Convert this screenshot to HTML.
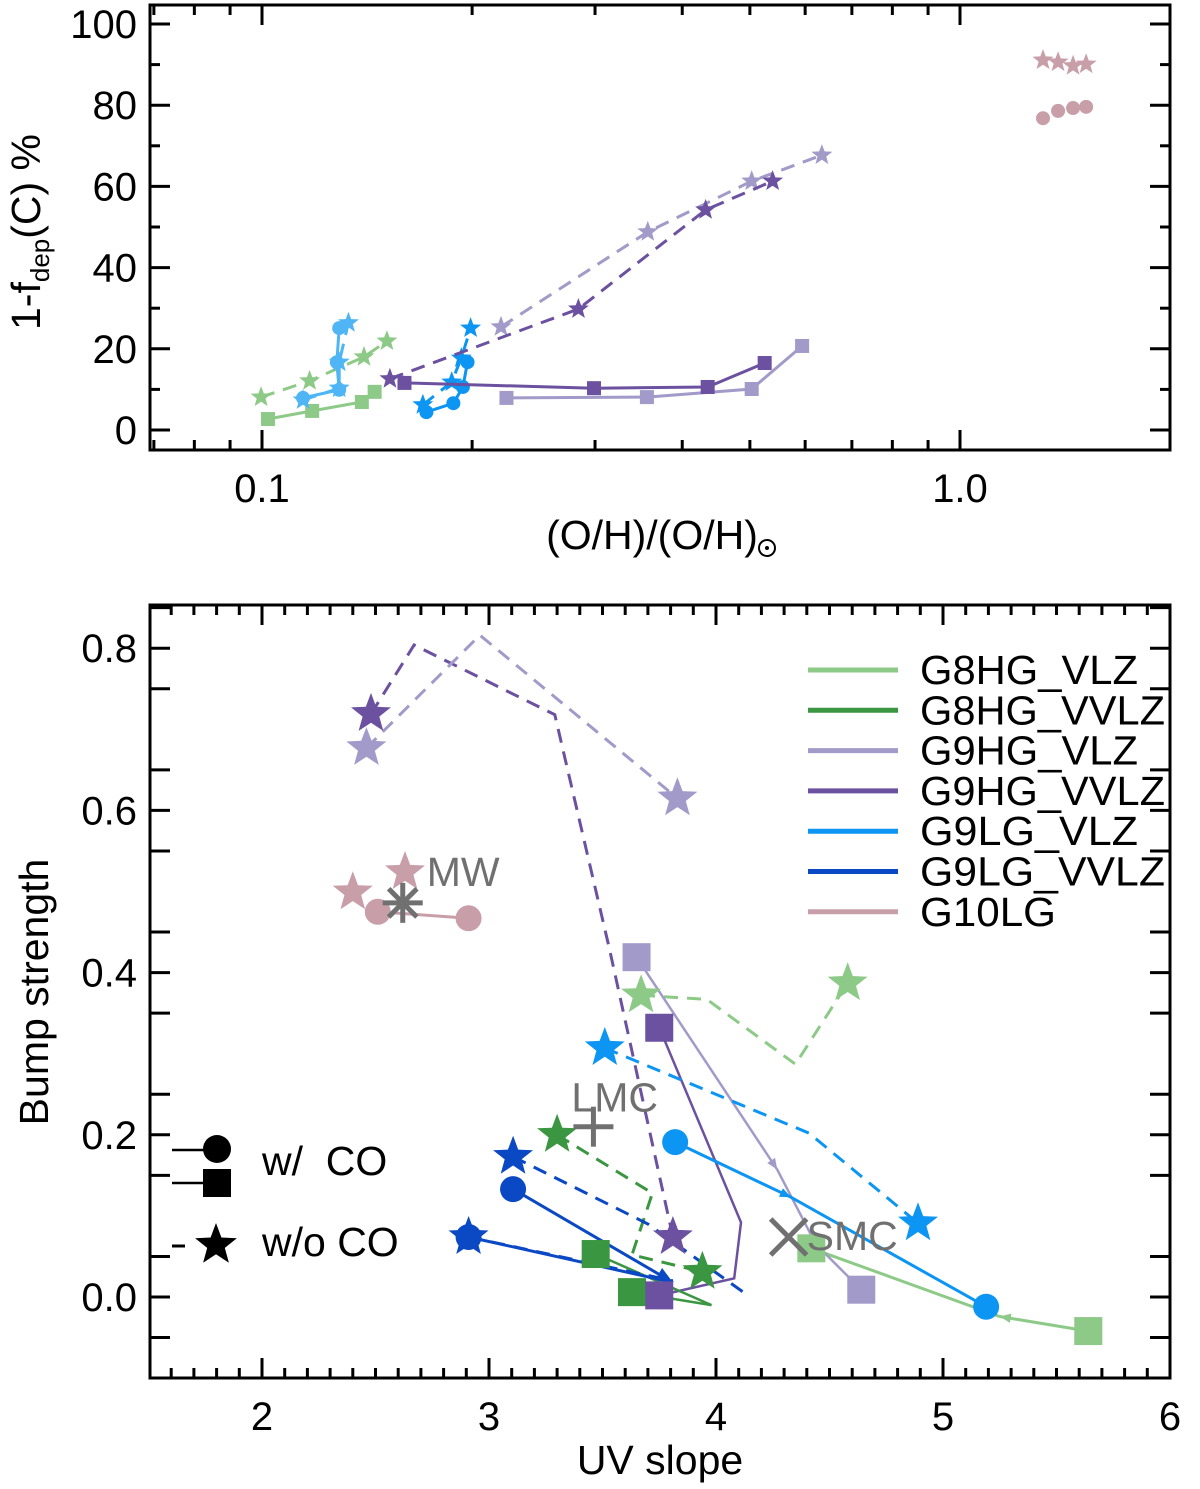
<!DOCTYPE html>
<html><head><meta charset="utf-8"><style>
html,body{margin:0;padding:0;background:#fff;}
svg{display:block;font-family:"Liberation Sans",sans-serif;}
</style></head><body>
<svg id="chart" width="1200" height="1489" viewBox="0 0 1200 1489" xmlns="http://www.w3.org/2000/svg"></svg>
<script>
// ---------- DATA ----------
const topXTicks = [0.1, 1.0];
const topXTickLabels = ["0.1", "1.0"];
const topYTicks = [0, 20, 40, 60, 80, 100];
const botXTicks = [2, 3, 4, 5, 6];
const botYTicks = [0.0, 0.2, 0.4, 0.6, 0.8];
const botYTickLabels = ["0.0", "0.2", "0.4", "0.6", "0.8"];

const seriesNames = ["G8HG_VLZ","G8HG_VVLZ","G9HG_VLZ","G9HG_VVLZ","G9LG_VLZ","G9LG_VVLZ","G10LG"];
const seriesColors = ["#8dca88","#3b9641","#a29ac8","#6b519f","#0c95f2","#0a48c4","#c89ea9"];

// top panel: metallicity (O/H)/(O/H)sun and 1-fdep %
const t_g8vlz_sq_x = [0.102,0.118,0.139,0.145];
const t_g8vlz_sq_y = [2.7,4.7,6.9,9.4];
const t_g8vlz_st_x = [0.0997,0.117,0.140,0.151];
const t_g8vlz_st_y = [8.1,12.1,18.0,21.9];
const t_lb_ci_x = [0.1145,0.129,0.128,0.129];
const t_lb_ci_y = [7.9,9.9,16.7,25.1];
const t_lb_st_x = [0.1145,0.129,0.129,0.133];
const t_lb_st_y = [7.4,10.3,16.7,26.4];
const t_az_ci_x = [0.172,0.188,0.194,0.197];
const t_az_ci_y = [4.4,6.6,10.6,16.7];
const t_az_st_x = [0.170,0.187,0.193,0.199];
const t_az_st_y = [6.2,11.8,17.7,25.1];
const t_g9vvlz_sq_x = [0.160,0.299,0.435,0.525];
const t_g9vvlz_sq_y = [11.6,10.3,10.6,16.5];
const t_g9vlz_sq_x = [0.224,0.356,0.503,0.594];
const t_g9vlz_sq_y = [7.9,8.1,10.1,20.7];
const t_g9vvlz_st_x = [0.1525,0.284,0.432,0.539];
const t_g9vvlz_st_y = [12.6,29.8,54.2,61.3];
const t_g9vlz_st_x = [0.220,0.357,0.503,0.634];
const t_g9vlz_st_y = [25.4,48.8,61.3,67.7];
const t_g10_st_x = [1.315,1.382,1.452,1.516];
const t_g10_st_y = [91.1,90.6,89.7,90.1];
const t_g10_ci_x = [1.315,1.382,1.452,1.516];
const t_g10_ci_y = [76.8,78.6,79.3,79.6];

// bottom panel: UV slope and bump strength
const b_g8vlz_sol_x = [5.64,5.25,4.42];
const b_g8vlz_sol_y = [-0.042,-0.024,0.060];
const b_g8vlz_das_x = [3.67,3.96,4.35,4.58];
const b_g8vlz_das_y = [0.372,0.367,0.287,0.387];
const b_g8vvlz_das_x = [3.30,3.72,3.63,3.94];
const b_g8vvlz_das_y = [0.200,0.128,0.052,0.031];
const b_g8vvlz_sq1_x = [3.47,3.98];
const b_g8vvlz_sq1_y = [0.053,-0.010];
const b_g8vvlz_sq2_x = [3.63,3.98];
const b_g8vvlz_sq2_y = [0.006,-0.010];
const b_g9vlz_sol_x = [3.65,4.27,4.44,4.64];
const b_g9vlz_sol_y = [0.419,0.157,0.065,0.009];
const b_g9vlz_das_x = [2.46,2.96,3.83];
const b_g9vlz_das_y = [0.677,0.816,0.615];
const b_g9vvlz_sol_x = [3.75,4.11,4.08,3.75];
const b_g9vvlz_sol_y = [0.332,0.092,0.023,0.002];
const b_g9vvlz_das_x = [2.48,2.67,3.29,3.53,3.81];
const b_g9vvlz_das_y = [0.719,0.804,0.718,0.430,0.074];
const b_lgvlz_sol_x = [3.82,4.33,5.19];
const b_lgvlz_sol_y = [0.191,0.123,-0.012];
const b_lgvlz_das_x = [3.51,4.41,4.89];
const b_lgvlz_das_y = [0.307,0.202,0.091];
const b_lgvvlz_sol1_x = [3.106,3.81];
const b_lgvvlz_sol1_y = [0.133,0.018];
const b_lgvvlz_sol2_x = [2.91,3.81];
const b_lgvvlz_sol2_y = [0.074,0.018];
const b_lgvvlz_das1_x = [3.106,3.70,4.14];
const b_lgvvlz_das1_y = [0.173,0.090,0.002];
const b_lgvvlz_das2_x = [2.91,3.81];
const b_lgvvlz_das2_y = [0.074,0.020];
const b_g10_st_x = [2.40,2.63];
const b_g10_st_y = [0.499,0.524];
const b_g10_ci_x = [2.51,2.91];
const b_g10_ci_y = [0.475,0.467];
const refNames = ["MW","LMC","SMC"];
const refX = [2.62,3.46,4.32];
const refY = [0.486,0.210,0.074];

// ---------- AXES ----------
const svg = document.getElementById('chart');
const NS = "http://www.w3.org/2000/svg";
function mk(tag, attrs, parent){
  const e = document.createElementNS(NS, tag);
  for (const k in attrs) e.setAttribute(k, attrs[k]);
  (parent||svg).appendChild(e);
  return e;
}
const T = {x0:150, x1:1170, y0:5, y1:450};
const B = {x0:150, x1:1170, y0:605, y1:1378};
const txs = v => 262 + (Math.log10(v) + 1) * 698;
const tys = v => 430 - v * 4.06;
const bxs = v => 262 + (v - 2) * 227;
const bys = v => 1297 - v * 811;

function starPts(cx, cy, r){
  const p = [];
  for (let i=0;i<10;i++){
    const a = -Math.PI/2 + i*Math.PI/5;
    const rr = i%2===0 ? r : r*0.42;
    p.push((cx+rr*Math.cos(a)).toFixed(1)+","+(cy+rr*Math.sin(a)).toFixed(1));
  }
  return p.join(" ");
}
function line(g, xs, ys, fx, fy, color, dashed, w, name){
  const pts = xs.map((x,i)=>fx(x).toFixed(1)+","+fy(ys[i]).toFixed(1)).join(" ");
  const el = mk('polyline', {points:pts, fill:'none', stroke:color, 'stroke-width':w||3, 'stroke-dasharray': dashed ? '14,9' : 'none'}, g);
  
  
}
function marker(g, type, cx, cy, size, color, name){
  let el;
  if (type==='star') el = mk('polygon', {points: starPts(cx,cy,size), fill:color}, g);
  else if (type==='sq') el = mk('rect', {x:cx-size, y:cy-size, width:2*size, height:2*size, fill:color}, g);
  else el = mk('circle', {cx:cx, cy:cy, r:size, fill:color}, g);
  
  
}
function markers(g, type, xs, ys, fx, fy, size, color, idx, name){
  const list = idx || xs.map((_,i)=>i);
  list.forEach(i => marker(g, type, fx(xs[i]), fy(ys[i]), size, color, name));
}
function arrow(g, x1, y1, x2, y2, color, len){
  const a = Math.atan2(y2-y1, x2-x1), L = len||12, s = 0.4;
  const p = [[x2,y2],[x2-L*Math.cos(a-s), y2-L*Math.sin(a-s)],[x2-L*Math.cos(a+s), y2-L*Math.sin(a+s)]];
  const el = mk('polygon', {points:p.map(q=>q.join(',')).join(' '), fill:color}, g);
  
  
}
function text(g, x, y, s, size, anchor, color, name){
  const el = mk('text', {x:x, y:y, 'font-size':size, 'text-anchor':anchor||'start', fill:color||'#000'}, g);
  el.textContent = s;
  
  
  return el;
}
function frame(P, name){
  const el = mk('rect', {x:P.x0, y:P.y0, width:P.x1-P.x0, height:P.y1-P.y0, fill:'none', stroke:'#000', 'stroke-width':3});
  
  
}
function tick(g, x1,y1,x2,y2){
  mk('line',{x1:x1,y1:y1,x2:x2,y2:y2,stroke:'#000','stroke-width':3},g);
}
const TF = 40, LF = 41;

// ---------- TOP PANEL ----------
const gTop = mk('g', {});  
frame(T, 'top-plot-frame');
const gTopAx = mk('g', {}, gTop);  
[0.07,0.08,0.09,0.2,0.3,0.4,0.5,0.6,0.7,0.8,0.9,2].forEach(v=>{const x=txs(v); if(x>T.x0&&x<T.x1){tick(gTopAx,x,T.y1,x,T.y1-10);tick(gTopAx,x,T.y0,x,T.y0+10);}});
topXTicks.forEach((v,i)=>{const x=txs(v); tick(gTopAx,x,T.y1,x,T.y1-20);tick(gTopAx,x,T.y0,x,T.y0+20); text(gTopAx,x,502,topXTickLabels[i],TF,'middle','#000','top-x-tick-label');});
for (let v=10; v<100; v+=20){const y=tys(v); tick(gTopAx,T.x0,y,T.x0+10,y); tick(gTopAx,T.x1,y,T.x1-10,y);}
topYTicks.forEach(v=>{const y=tys(v); tick(gTopAx,T.x0,y,T.x0+20,y); tick(gTopAx,T.x1,y,T.x1-20,y); text(gTopAx,137,y+14,String(v),TF,'end','#000','top-y-tick-label');});
text(gTopAx, 652, 549, "(O/H)/(O/H)", LF, 'middle', '#000', 'top-x-axis-title');
mk('circle',{cx:767,cy:548,r:8,fill:'none',stroke:'#000','stroke-width':2},gTopAx);
mk('circle',{cx:767,cy:548,r:2,fill:'#000'},gTopAx);
const yt = mk('text',{x:0,y:0,'font-size':LF,transform:'translate(40,232) rotate(-90)','text-anchor':'middle'},gTopAx);
 
yt.innerHTML = '1-f<tspan font-size="26" dy="9">dep</tspan><tspan dy="-9">(C) %</tspan>';

const c = seriesColors;
line(gTop, t_g8vlz_sq_x, t_g8vlz_sq_y, txs, tys, c[0], false, 3, 'g8hg-vlz-co-line');
markers(gTop,'sq', t_g8vlz_sq_x, t_g8vlz_sq_y, txs, tys, 7, c[0], null, 'g8hg-vlz-co-marker');
line(gTop, t_g8vlz_st_x, t_g8vlz_st_y, txs, tys, c[0], true, 3, 'g8hg-vlz-noco-line');
markers(gTop,'star', t_g8vlz_st_x, t_g8vlz_st_y, txs, tys, 11, c[0], null, 'g8hg-vlz-noco-marker');
line(gTop, t_lb_ci_x, t_lb_ci_y, txs, tys, "#4fb5f5", false, 3, 'g9lg-light-co-line');
markers(gTop,'ci', t_lb_ci_x, t_lb_ci_y, txs, tys, 7, "#4fb5f5", null, 'g9lg-light-co-marker');
line(gTop, t_lb_st_x, t_lb_st_y, txs, tys, "#4fb5f5", true, 3, 'g9lg-light-noco-line');
markers(gTop,'star', t_lb_st_x, t_lb_st_y, txs, tys, 11, "#4fb5f5", null, 'g9lg-light-noco-marker');
line(gTop, t_az_ci_x, t_az_ci_y, txs, tys, c[4], false, 3, 'g9lg-co-line');
markers(gTop,'ci', t_az_ci_x, t_az_ci_y, txs, tys, 7, c[4], null, 'g9lg-co-marker');
line(gTop, t_az_st_x, t_az_st_y, txs, tys, c[4], true, 3, 'g9lg-noco-line');
markers(gTop,'star', t_az_st_x, t_az_st_y, txs, tys, 11, c[4], null, 'g9lg-noco-marker');
line(gTop, t_g9vlz_sq_x, t_g9vlz_sq_y, txs, tys, c[2], false, 3, 'g9hg-vlz-co-line');
markers(gTop,'sq', t_g9vlz_sq_x, t_g9vlz_sq_y, txs, tys, 7, c[2], null, 'g9hg-vlz-co-marker');
line(gTop, t_g9vvlz_sq_x, t_g9vvlz_sq_y, txs, tys, c[3], false, 3, 'g9hg-vvlz-co-line');
markers(gTop,'sq', t_g9vvlz_sq_x, t_g9vvlz_sq_y, txs, tys, 7, c[3], null, 'g9hg-vvlz-co-marker');
line(gTop, t_g9vlz_st_x, t_g9vlz_st_y, txs, tys, c[2], true, 3, 'g9hg-vlz-noco-line');
markers(gTop,'star', t_g9vlz_st_x, t_g9vlz_st_y, txs, tys, 11, c[2], null, 'g9hg-vlz-noco-marker');
line(gTop, t_g9vvlz_st_x, t_g9vvlz_st_y, txs, tys, c[3], true, 3, 'g9hg-vvlz-noco-line');
markers(gTop,'star', t_g9vvlz_st_x, t_g9vvlz_st_y, txs, tys, 11, c[3], null, 'g9hg-vvlz-noco-marker');
markers(gTop,'star', t_g10_st_x, t_g10_st_y, txs, tys, 11, c[6], null, 'g10lg-noco-marker');
markers(gTop,'ci', t_g10_ci_x, t_g10_ci_y, txs, tys, 7, c[6], null, 'g10lg-co-marker');

// ---------- BOTTOM PANEL ----------
const gBot = mk('g', {});  
frame(B, 'bottom-plot-frame');
const gBAx = mk('g', {}, gBot);  
for (let k=16; k<60; k++){ if(k%10===0) continue; const x=bxs(k/10); tick(gBAx,x,B.y1,x,B.y1-10); tick(gBAx,x,B.y0,x,B.y0+10);}
botXTicks.forEach(v=>{const x=bxs(v); tick(gBAx,x,B.y1,x,B.y1-20); tick(gBAx,x,B.y0,x,B.y0+20); text(gBAx,x,1430,String(v),TF,'middle','#000','bottom-x-tick-label');});
for (let k=-1; k<=17; k+=2){ const y=bys(k*0.05); if(y>B.y0&&y<B.y1){tick(gBAx,B.x0,y,B.x0+20,y); tick(gBAx,B.x1,y,B.x1-20,y);} }
botYTicks.forEach((v,i)=>{const y=bys(v); tick(gBAx,B.x0,y,B.x0+20,y); tick(gBAx,B.x1,y,B.x1-20,y); text(gBAx,137,y+14,botYTickLabels[i],TF,'end','#000','bottom-y-tick-label');});
text(gBAx, 660, 1474, "UV slope", LF, 'middle', '#000', 'bottom-x-axis-title');
const byt = text(gBAx, 0, 0, "Bump strength", LF, 'middle', '#000', 'bottom-y-axis-title');
byt.setAttribute('transform','translate(48,992) rotate(-90)');

// lines
line(gBot, b_g8vlz_das_x, b_g8vlz_das_y, bxs, bys, c[0], true, 3, 'g8hg-vlz-noco-line');
line(gBot, b_g8vlz_sol_x, b_g8vlz_sol_y, bxs, bys, c[0], false, 3, 'g8hg-vlz-co-line');
arrow(gBot, bxs(5.64), bys(-0.042), bxs(5.25), bys(-0.024), c[0], 12);
line(gBot, b_g9vvlz_das_x, b_g9vvlz_das_y, bxs, bys, c[3], true, 3, 'g9hg-vvlz-noco-line');
line(gBot, b_g9vlz_das_x, b_g9vlz_das_y, bxs, bys, c[2], true, 3, 'g9hg-vlz-noco-line');
line(gBot, b_g9vlz_sol_x, b_g9vlz_sol_y, bxs, bys, c[2], false, 2.5, 'g9hg-vlz-co-line');
arrow(gBot, bxs(3.65), bys(0.419), bxs(4.27), bys(0.157), c[2], 12);
line(gBot, b_g9vvlz_sol_x, b_g9vvlz_sol_y, bxs, bys, c[3], false, 2.5, 'g9hg-vvlz-co-line');
line(gBot, b_lgvlz_das_x, b_lgvlz_das_y, bxs, bys, c[4], true, 3, 'g9lg-vlz-noco-line');
line(gBot, b_lgvlz_sol_x, b_lgvlz_sol_y, bxs, bys, c[4], false, 3, 'g9lg-vlz-co-line');
arrow(gBot, bxs(3.82), bys(0.191), bxs(4.33), bys(0.123), c[4], 12);
line(gBot, b_g8vvlz_das_x, b_g8vvlz_das_y, bxs, bys, c[1], true, 3, 'g8hg-vvlz-noco-line');
line(gBot, b_g8vvlz_sq1_x, b_g8vvlz_sq1_y, bxs, bys, c[1], false, 2.5, 'g8hg-vvlz-co-line');
line(gBot, b_g8vvlz_sq2_x, b_g8vvlz_sq2_y, bxs, bys, c[1], false, 2.5, 'g8hg-vvlz-co-line');
line(gBot, b_lgvvlz_das1_x, b_lgvvlz_das1_y, bxs, bys, c[5], true, 3, 'g9lg-vvlz-noco-line');
line(gBot, b_lgvvlz_das2_x, b_lgvvlz_das2_y, bxs, bys, c[5], true, 3, 'g9lg-vvlz-noco-line');
line(gBot, b_lgvvlz_sol1_x, b_lgvvlz_sol1_y, bxs, bys, c[5], false, 3, 'g9lg-vvlz-co-line');
line(gBot, b_lgvvlz_sol2_x, b_lgvvlz_sol2_y, bxs, bys, c[5], false, 3, 'g9lg-vvlz-co-line');
arrow(gBot, bxs(3.106), bys(0.133), bxs(3.81), bys(0.018), c[5], 18);
line(gBot, b_g10_ci_x, b_g10_ci_y, bxs, bys, c[6], false, 3, 'g10lg-co-line');

// markers (first & last)
const fl = a => [0, a.length-1];
markers(gBot,'star', b_g8vlz_das_x, b_g8vlz_das_y, bxs, bys, 21, c[0], fl(b_g8vlz_das_x), 'g8hg-vlz-noco-marker');
markers(gBot,'sq', b_g8vlz_sol_x, b_g8vlz_sol_y, bxs, bys, 14, c[0], fl(b_g8vlz_sol_x), 'g8hg-vlz-co-marker');
markers(gBot,'star', b_g9vlz_das_x, b_g9vlz_das_y, bxs, bys, 21, c[2], fl(b_g9vlz_das_x), 'g9hg-vlz-noco-marker');
markers(gBot,'star', b_g9vvlz_das_x, b_g9vvlz_das_y, bxs, bys, 21, c[3], fl(b_g9vvlz_das_x), 'g9hg-vvlz-noco-marker');
markers(gBot,'sq', b_g9vlz_sol_x, b_g9vlz_sol_y, bxs, bys, 14, c[2], fl(b_g9vlz_sol_x), 'g9hg-vlz-co-marker');
markers(gBot,'sq', b_g8vvlz_sq1_x, b_g8vvlz_sq1_y, bxs, bys, 14, c[1], [0], 'g8hg-vvlz-co-marker');
markers(gBot,'sq', b_g8vvlz_sq2_x, b_g8vvlz_sq2_y, bxs, bys, 14, c[1], [0], 'g8hg-vvlz-co-marker');
markers(gBot,'sq', b_g9vvlz_sol_x, b_g9vvlz_sol_y, bxs, bys, 14, c[3], fl(b_g9vvlz_sol_x), 'g9hg-vvlz-co-marker');
markers(gBot,'star', b_lgvlz_das_x, b_lgvlz_das_y, bxs, bys, 21, c[4], fl(b_lgvlz_das_x), 'g9lg-vlz-noco-marker');
markers(gBot,'ci', b_lgvlz_sol_x, b_lgvlz_sol_y, bxs, bys, 13, c[4], fl(b_lgvlz_sol_x), 'g9lg-vlz-co-marker');
markers(gBot,'star', b_g8vvlz_das_x, b_g8vvlz_das_y, bxs, bys, 21, c[1], fl(b_g8vvlz_das_x), 'g8hg-vvlz-noco-marker');
markers(gBot,'star', b_lgvvlz_das1_x, b_lgvvlz_das1_y, bxs, bys, 21, c[5], [0], 'g9lg-vvlz-noco-marker');
markers(gBot,'star', b_lgvvlz_das2_x, b_lgvvlz_das2_y, bxs, bys, 21, c[5], [0], 'g9lg-vvlz-noco-marker');
markers(gBot,'ci', b_lgvvlz_sol1_x, b_lgvvlz_sol1_y, bxs, bys, 13, c[5], [0], 'g9lg-vvlz-co-marker');
markers(gBot,'ci', b_lgvvlz_sol2_x, b_lgvvlz_sol2_y, bxs, bys, 13, c[5], [0], 'g9lg-vvlz-co-marker');
markers(gBot,'star', b_g10_st_x, b_g10_st_y, bxs, bys, 21, c[6], null, 'g10lg-noco-marker');
markers(gBot,'ci', b_g10_ci_x, b_g10_ci_y, bxs, bys, 13, c[6], null, 'g10lg-co-marker');

// reference points
const gRef = mk('g', {}, gBot);  
const gray = "#707070";
{
  const x=bxs(refX[0]), y=bys(refY[0]), r=20;
  for (let k=0;k<4;k++){const a=k*Math.PI/4; mk('line',{x1:x-r*Math.cos(a),y1:y-r*Math.sin(a),x2:x+r*Math.cos(a),y2:y+r*Math.sin(a),stroke:gray,'stroke-width':5},gRef);}
  text(gRef, x+24, y-17, refNames[0], LF, 'start', gray, 'mw-label');
}
{
  const x=bxs(refX[1]), y=bys(refY[1]), r=20;
  mk('line',{x1:x-r,y1:y,x2:x+r,y2:y,stroke:gray,'stroke-width':5},gRef);
  mk('line',{x1:x,y1:y-r,x2:x,y2:y+r,stroke:gray,'stroke-width':5},gRef);
  text(gRef, x-22, y-15, refNames[1], LF, 'start', gray, 'lmc-label');
}
{
  const x=bxs(refX[2]), y=bys(refY[2]), r=18;
  mk('line',{x1:x-r,y1:y-r,x2:x+r,y2:y+r,stroke:gray,'stroke-width':5},gRef);
  mk('line',{x1:x-r,y1:y+r,x2:x+r,y2:y-r,stroke:gray,'stroke-width':5},gRef);
  text(gRef, x+18, y+13, refNames[2], LF, 'start', gray, 'smc-label');
}

// legend
const gLeg = mk('g', {}, gBot);  
seriesNames.forEach((n,i)=>{
  const y = 670 + i*40.3;
  const l = mk('line',{x1:808,y1:y,x2:898,y2:y,stroke:seriesColors[i],'stroke-width':5},gLeg);
   
  const t = text(gLeg, 920, y+14, n, LF, 'start', '#000', 'legend-entry');
  t.setAttribute('textLength', n.length===9 ? 245 : Math.round(245*n.length/9));
  t.setAttribute('lengthAdjust','spacingAndGlyphs');
});
// marker legend
const gML = mk('g', {}, gBot);  
mk('line',{x1:172,y1:1150,x2:205,y2:1150,stroke:'#000','stroke-width':2.5},gML);
marker(gML,'ci',217,1149,14,'#000','legend-circle');
mk('line',{x1:172,y1:1183,x2:205,y2:1183,stroke:'#000','stroke-width':2.5},gML);
marker(gML,'sq',217,1183,14,'#000','legend-square');
mk('line',{x1:172,y1:1246,x2:185,y2:1246,stroke:'#000','stroke-width':3},gML);
marker(gML,'star',216,1245,22,'#000','legend-star');
text(gML, 262, 1175, "w/\u00a0\u00a0CO", LF, 'start', '#000', 'legend-with-co');
text(gML, 262, 1256, "w/o CO", LF, 'start', '#000', 'legend-without-co');
</script>
</body></html>
